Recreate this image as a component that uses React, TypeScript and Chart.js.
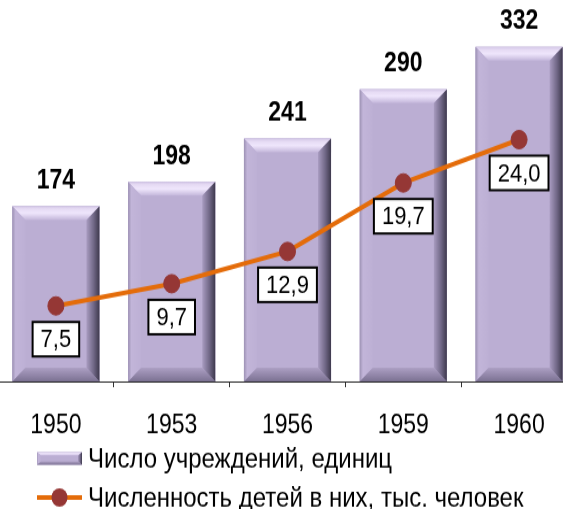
import React, { useEffect, useRef } from "react";
import { Chart, registerables } from "chart.js";

Chart.register(...registerables);

const years = ["1950", "1953", "1956", "1959", "1960"];
const institutions = [174, 198, 241, 290, 332];
const children = [7.5, 9.7, 12.9, 19.7, 24.0];
const barLabel = "Число учреждений, единиц";
const lineLabel = "Численность детей в них, тыс. человек";

const FONT = '"Liberation Sans", Arial, sans-serif';
const BAR_FILL = "#bbaed3";
const LINE_COLOR = "#e46c0a";
const POINT_COLOR = "#953735";

const W = 579;
const H = 443;

function drawBevel(ctx: CanvasRenderingContext2D, l: number, t: number, r: number, b: number, bx: number, by: number) {
  ctx.save();
  ctx.fillStyle = BAR_FILL;
  ctx.fillRect(l, t, r - l, b - t);
  // top
  let g = ctx.createLinearGradient(0, t, 0, t + by);
  g.addColorStop(0, "#d2c6e6");
  g.addColorStop(0.2, "#e6dbf4");
  g.addColorStop(0.5, "#efe6fc");
  g.addColorStop(1, "#c4b7db");
  ctx.fillStyle = g;
  ctx.beginPath();
  ctx.moveTo(l, t);
  ctx.lineTo(r, t);
  ctx.lineTo(r - bx, t + by);
  ctx.lineTo(l + bx, t + by);
  ctx.closePath();
  ctx.fill();
  // left
  g = ctx.createLinearGradient(l, 0, l + bx, 0);
  g.addColorStop(0, "#9d92b4");
  g.addColorStop(0.25, "#c2b5d9");
  g.addColorStop(1, "#bdb0d5");
  ctx.fillStyle = g;
  ctx.beginPath();
  ctx.moveTo(l, t);
  ctx.lineTo(l + bx, t + by);
  ctx.lineTo(l + bx, b - by);
  ctx.lineTo(l, b);
  ctx.closePath();
  ctx.fill();
  // bottom
  g = ctx.createLinearGradient(0, b - by, 0, b);
  g.addColorStop(0, "#ada0c4");
  g.addColorStop(1, "#7b7192");
  ctx.fillStyle = g;
  ctx.beginPath();
  ctx.moveTo(l, b);
  ctx.lineTo(l + bx, b - by);
  ctx.lineTo(r - bx, b - by);
  ctx.lineTo(r, b);
  ctx.closePath();
  ctx.fill();
  // right
  g = ctx.createLinearGradient(r - bx, 0, r, 0);
  g.addColorStop(0, "#a99cc1");
  g.addColorStop(0.55, "#716887");
  g.addColorStop(1, "#3e394d");
  ctx.fillStyle = g;
  ctx.beginPath();
  ctx.moveTo(r, t);
  ctx.lineTo(r, b);
  ctx.lineTo(r - bx, b - by);
  ctx.lineTo(r - bx, t + by);
  ctx.closePath();
  ctx.fill();
  ctx.restore();
}

const bevelPlugin = {
  id: "bevelBars",
  afterDatasetDraw(chart: any, args: any) {
    const meta = args.meta;
    if (meta.type !== "bar") return;
    const ctx = chart.ctx;
    meta.data.forEach((el: any) => {
      const p = el.getProps(["x", "y", "base", "width"], true);
      const l = p.x - p.width / 2;
      const r = p.x + p.width / 2;
      drawBevel(ctx, l, p.y, r, p.base, 13, 12);
    });
  },
};

const labelsPlugin = {
  id: "valueLabels",
  afterDatasetsDraw(chart: any) {
    const ctx = chart.ctx;
    chart.data.datasets.forEach((ds: any, i: number) => {
      const meta = chart.getDatasetMeta(i);
      meta.data.forEach((el: any, j: number) => {
        const v = ds.data[j];
        const p = el.getProps(["x", "y"], true);
        ctx.save();
        if (meta.type === "bar") {
          ctx.font = `bold 23px ${FONT}`;
          ctx.fillStyle = "#000";
          ctx.textAlign = "center";
          ctx.textBaseline = "middle";
          ctx.fillText(String(v), p.x, p.y - 22);
        } else {
          const txt = v.toFixed(1).replace(".", ",");
          ctx.font = `22px ${FONT}`;
          const tw = ctx.measureText(txt).width;
          const bw = tw + 16;
          const bh = 30;
          const cy = p.y + 29;
          ctx.fillStyle = "#fff";
          ctx.fillRect(p.x - bw / 2, cy - bh / 2, bw, bh);
          ctx.strokeStyle = "#000";
          ctx.lineWidth = 2;
          ctx.strokeRect(p.x - bw / 2, cy - bh / 2, bw, bh);
          ctx.fillStyle = "#000";
          ctx.textAlign = "center";
          ctx.textBaseline = "middle";
          ctx.fillText(txt, p.x, cy + 1);
        }
        ctx.restore();
      });
    });
  },
};

const legendPlugin = {
  id: "customLegend",
  afterDraw(chart: any) {
    const ctx = chart.ctx;
    const x0 = 39;
    const x1 = 84;
    const y1 = 399;
    const y2 = 433;
    ctx.save();
    drawBevel(ctx, x0, y1 - 5.5, x1, y1 + 5.5, 4, 3);
    ctx.strokeStyle = LINE_COLOR;
    ctx.lineWidth = 4;
    ctx.beginPath();
    ctx.moveTo(x0, y2);
    ctx.lineTo(x1, y2);
    ctx.stroke();
    ctx.fillStyle = POINT_COLOR;
    ctx.beginPath();
    ctx.arc((x0 + x1) / 2, y2, 8, 0, Math.PI * 2);
    ctx.fill();
    ctx.fillStyle = "#000";
    ctx.font = `24px ${FONT}`;
    ctx.textAlign = "left";
    ctx.textBaseline = "middle";
    ctx.fillText(barLabel, 90, y1 + 1);
    ctx.fillText(lineLabel, 90, y2 + 1);
    ctx.restore();
  },
};

export default function App() {
  const ref = useRef<HTMLCanvasElement | null>(null);
  useEffect(() => {
    const canvas = ref.current;
    if (!canvas) return;
    const chart = new Chart(canvas, {
      type: "bar",
      data: {
        labels: years,
        datasets: [
          {
            type: "line",
            label: lineLabel,
            data: children,
            yAxisID: "y1",
            borderColor: LINE_COLOR,
            borderWidth: 4,
            pointRadius: 8,
            pointBackgroundColor: POINT_COLOR,
            pointBorderColor: POINT_COLOR,
            pointBorderWidth: 1,
            tension: 0,
            order: 0,
          } as any,
          {
            type: "bar",
            label: barLabel,
            data: institutions,
            yAxisID: "y",
            backgroundColor: BAR_FILL,
            barPercentage: 0.752,
            categoryPercentage: 1,
            order: 1,
          },
        ],
      },
      options: {
        animation: false,
        responsive: false,
        maintainAspectRatio: false,
        devicePixelRatio: 1,
        layout: { autoPadding: false, padding: { top: 25, left: 0, right: 0, bottom: 0 } },
        plugins: { legend: { display: false }, tooltip: { enabled: false } },
        scales: {
          x: {
            offset: true,
            grid: {
              offset: true,
              drawOnChartArea: false,
              drawTicks: true,
              tickLength: 5,
              color: "#333",
              lineWidth: 1,
            },
            border: { display: true, color: "#222", width: 1 },
            ticks: { font: { family: FONT, size: 23 }, color: "#000", padding: 20 },
            afterFit: (scale: any) => {
              scale.height = H - 25 - 307;
            },
          },
          y: { display: false, min: 0, max: 350 },
          y1: { display: false, min: 0, max: 35, position: "right" },
        },
      } as any,
      plugins: [bevelPlugin, labelsPlugin, legendPlugin],
    });
    return () => chart.destroy();
  }, []);

  return (
    <div
      style={{
        position: "absolute",
        left: 0,
        top: 0,
        width: 563,
        height: 509,
        overflow: "hidden",
        background: "#fff",
      }}
    >
      <canvas
        ref={ref}
        width={W}
        height={H}
        style={{ position: "absolute", left: -2, top: 0, width: `${W}px`, height: "509px" }}
      />
    </div>
  );
}
